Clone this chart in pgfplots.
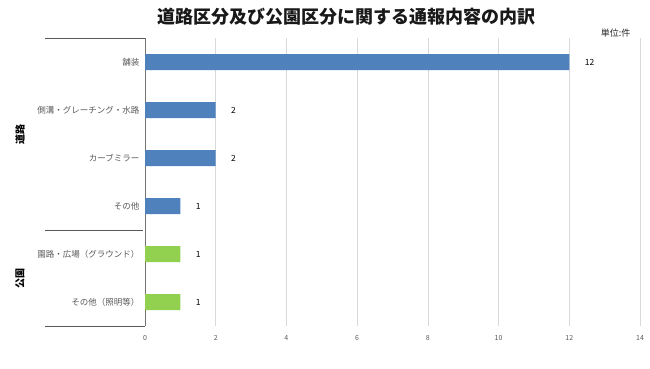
\documentclass[border=0pt]{standalone}
\usepackage{pgfplots}
\pgfplotsset{compat=1.18}
\usepackage{fontspec}
\setmainfont{Noto Sans CJK JP}
\newfontfamily\cjk{Noto Sans CJK JP}
\definecolor{roadblue}{HTML}{4F81BD}
\definecolor{parkgreen}{HTML}{92D050}
\definecolor{txtgray}{HTML}{595959}
\definecolor{gridgray}{HTML}{D9D9D9}
\begin{document}
\begin{tikzpicture}[x=1pt,y=1pt]
\path[use as bounding box] (0,0) rectangle (650,368);
\begin{axis}[
  at={(145pt,42pt)}, anchor=south west,
  scale only axis, width=495pt, height=288pt,
  xmin=0, xmax=14, xtick={0,2,...,14},
  ymin=-0.5, ymax=5.5, y dir=reverse,
  ytick={0,1,2,3,4,5},
  yticklabels={舗装,側溝・グレーチング・水路,カーブミラー,その他,園路・広場（グラウンド）,その他（照明等）},
  xmajorgrids, grid style={gridgray, line width=0.6pt},
  major tick length=0pt,
  x axis line style={draw=none},
  y axis line style={draw=black!55, line width=0.6pt},
  axis x line*=bottom, axis y line*=left,
  yticklabel style={font=\fontsize{8.5}{10}\selectfont, text=txtgray, xshift=-2pt},
  xticklabel style={font=\fontsize{7}{8}\selectfont, text=txtgray, yshift=-6pt},
  /pgf/number format/assume math mode=true,
  xbar, bar width=16pt, bar shift=0pt,
  nodes near coords,
  every node near coord/.append style={font=\fontsize{8.5}{9}\selectfont, text=black, anchor=west, xshift=12pt},
  clip=false,
]
\addplot[fill=roadblue, draw=none] coordinates {(12,0) (2,1) (2,2) (1,3)};
\addplot[fill=parkgreen, draw=none] coordinates {(1,4) (1,5)};
\draw[black!65, line width=0.6pt] (axis cs:0,-0.5) -- ++(-100pt,0pt);
\draw[black!65, line width=0.6pt] (axis cs:0,5.5) -- ++(-100pt,0pt);
\draw[black!65, line width=0.6pt] (axis cs:0,3.5) ++(-2pt,0pt) -- ++(-98pt,0pt);
\end{axis}
\node[rotate=90, font=\fontsize{10}{11}\selectfont\bfseries, text=black] at (20,234) {道路};
\node[rotate=90, font=\fontsize{10}{11}\selectfont\bfseries, text=black] at (20,90) {公園};
\node[font=\fontsize{18}{20}\selectfont\bfseries, text=black!90] at (346,351) {道路区分及び公園区分に関する通報内容の内訳};
\node[anchor=east, font=\fontsize{9}{10}\selectfont, text=black!85] at (634,335) {単位:件};
\end{tikzpicture}
\end{document}
